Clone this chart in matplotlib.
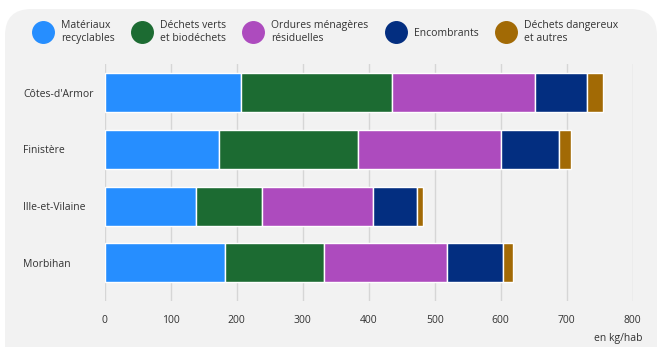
import numpy as np
import matplotlib
matplotlib.use("Agg")
import matplotlib.pyplot as plt
from matplotlib.lines import Line2D
from matplotlib.patches import FancyBboxPatch

# data (kg/hab)
departements = ["Côtes-d'Armor", "Finistère", "Ille-et-Vilaine", "Morbihan"]
recyclables = [206, 173, 138, 183]
verts = [229, 211, 100, 150]
omr = [217, 217, 168, 185]
encombrants = [78, 87, 67, 86]
dangereux = [25, 19, 10, 14]

labels = ["Matériaux\nrecyclables", "Déchets verts\net biodéchets",
          "Ordures ménagères\nrésiduelles", "Encombrants",
          "Déchets dangereux\net autres"]
colors = ["#268eff", "#1c6b32", "#ad4bbe", "#032e80", "#a26a05"]
xticks = [0, 100, 200, 300, 400, 500, 600, 700, 800]

plt.rcParams["font.family"] = ["Open Sans", "DejaVu Sans"]
plt.rcParams["font.size"] = 7.5

W, H = 660, 347
fig = plt.figure(figsize=(W / 100, H / 100), dpi=100, facecolor="white")

# light grey rounded panel behind everything
panel = FancyBboxPatch((5 / W, -0.2), 652 / W, 1.2 - 9 / H,
                       boxstyle="round,pad=0,rounding_size=0.04",
                       transform=fig.transFigure, facecolor="#f2f2f2",
                       edgecolor="none", zorder=-5, mutation_aspect=W / H)
fig.patches.append(panel)

ax = fig.add_axes([104.7 / W, 1 - 300.7 / H, 528 / W, (300.7 - 64) / H])
ax.set_facecolor("none")

series = [recyclables, verts, omr, encombrants, dangereux]
y = np.arange(len(departements))
left = np.zeros(len(departements))
for vals, col, lab in zip(series, colors, labels):
    ax.barh(y, vals, left=left, height=0.69, color=col,
            edgecolor="white", linewidth=1, label=lab, zorder=3)
    left += np.array(vals)

ax.set_xlim(0, 800)
ax.set_ylim(3.668, -0.506)
ax.set_xticks(xticks)
ax.set_yticks(y)
ax.set_yticklabels([])
# category names, left aligned in the panel
for yi, name in zip(y, departements):
    ax.text((23 - 104.7) / 528, yi, name, transform=ax.get_yaxis_transform(),
            ha="left", va="center_baseline", color="#333333")
ax.tick_params(axis="y", length=0)
ax.tick_params(axis="x", length=0, pad=10, colors="#333333")
ax.grid(axis="x", color="#d6d6d6", linewidth=1, zorder=0)
for s in ax.spines.values():
    s.set_visible(False)

fig.text(642 / W, 1 - 338 / H, "en kg/hab", ha="right", va="center",
         color="#333333")

handles = [Line2D([], [], linestyle="none", marker="o", markersize=15.5,
                  markerfacecolor=c, markeredgecolor=c) for c in colors]
fig.legend(handles, labels, loc="center left",
           bbox_to_anchor=(32 / W, 1 - 32 / H), ncol=5, frameon=False,
           borderpad=0, handlelength=2.1, handletextpad=0.65,
           columnspacing=1.6, labelcolor="#333333", borderaxespad=0)

fig.savefig("out.png", dpi=100, facecolor="white")
